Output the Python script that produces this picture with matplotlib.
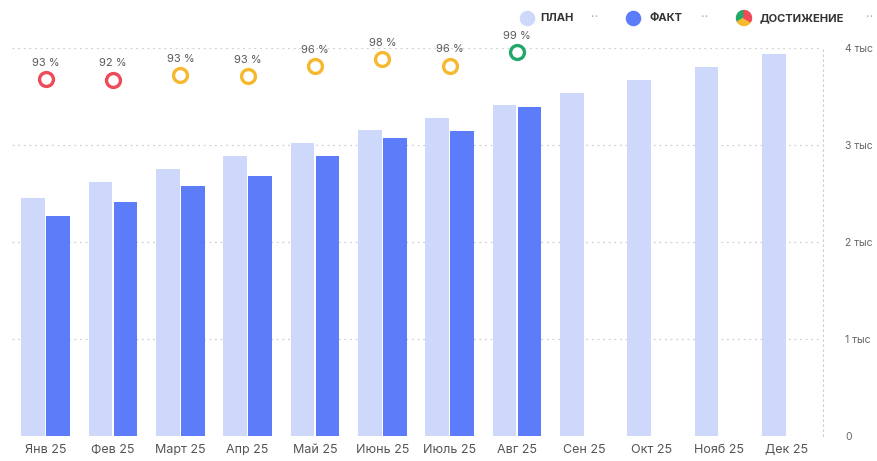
import numpy as np
import matplotlib.pyplot as plt
from matplotlib.patches import Wedge

plt.rcParams['font.family'] = ['Inter', 'DejaVu Sans']

# data (values in thousands)
months = ['Янв 25', 'Фев 25', 'Март 25', 'Апр 25', 'Май 25', 'Июнь 25',
          'Июль 25', 'Авг 25', 'Сен 25', 'Окт 25', 'Нояб 25', 'Дек 25']
plan = [2.45, 2.62, 2.75, 2.89, 3.02, 3.15, 3.28, 3.41, 3.54, 3.67, 3.80, 3.94]
fact = [2.27, 2.41, 2.58, 2.68, 2.89, 3.07, 3.14, 3.39]
achieved = [93, 92, 93, 93, 96, 98, 96, 99]
ach_pos = [92.3, 92.1, 93.3, 93.0, 95.4, 97.3, 95.6, 99.0]  # marker height on hidden % axis
ach_level = ['low', 'low', 'mid', 'mid', 'mid', 'mid', 'mid', 'high']
y_ticks = [0, 1, 2, 3, 4]
y_labels = ['0', '1 тыс', '2 тыс', '3 тыс', '4 тыс']

PLAN_C = '#cdd8fb'
FACT_C = '#5c7cfa'
RED, YEL, GRN = '#ef4a58', '#f5b82e', '#23a86b'
level_colors = {'low': RED, 'mid': YEL, 'high': GRN}

fig = plt.figure(figsize=(8.77, 4.61), dpi=100)
ax = fig.add_axes([12/877, 1-436/461, (820-12)/877, (436-48)/461])

x = np.arange(len(months))
w = 0.35
ax.bar(x - 0.185, plan, width=w, color=PLAN_C, zorder=2)
ax.bar(x[:len(fact)] + 0.185, fact, width=w, color=FACT_C, zorder=2)

# achievement markers on a hidden percent axis
ax2 = ax.twinx()
ax2.set_ylim(3, 100)
ax2.axis('off')
for i, (p, yp, lv) in enumerate(zip(achieved, ach_pos, ach_level)):
    c = level_colors[lv]
    ax2.scatter(i, yp, s=100, facecolor='white', edgecolor=c, linewidth=2.4, zorder=5, clip_on=False)
    ax2.annotate(f'{p} %', (i, yp), xytext=(0, 8), textcoords='offset points',
                 ha='center', va='bottom', fontsize=8, color='#5a5a5a')

ax.set_xlim(-0.5, len(months) - 0.5)
ax.set_ylim(0, 4)
ax.set_xticks(x)
ax.set_xticklabels(months)
ax.yaxis.tick_right()
ax.set_yticks(y_ticks)
ax.set_yticklabels(y_labels)
ax.tick_params(axis='x', length=0, pad=6, labelsize=9, labelcolor='#555555')
ax.tick_params(axis='y', length=0, pad=16, labelsize=7.5, labelcolor='#666666')
ax.grid(axis='y', linestyle=(0, (1.5, 3)), color='#d0d0d0', linewidth=0.9, zorder=0)
for s in ['top', 'left', 'bottom']:
    ax.spines[s].set_visible(False)
ax.spines['right'].set_linestyle((0, (1.5, 3)))
ax.spines['right'].set_color('#d0d0d0')
ax.spines['right'].set_position(('outward', 2))

# legend drawn in pixel coordinates (y axis points down here)
lg = fig.add_axes([0, 0, 1, 1], zorder=10)
lg.set_xlim(0, 877)
lg.set_ylim(461, 0)
lg.axis('off')
ly = 18
lg.scatter([527], [ly], s=125, color=PLAN_C, linewidth=0)
lg.text(540, ly, 'ПЛАН', fontsize=8, fontweight='bold', color='#333333', va='center')
lg.text(591, ly, '··', fontsize=9, color='#aaaaaa', va='center')
lg.scatter([633], [ly], s=125, color=FACT_C, linewidth=0)
lg.text(649, ly, 'ФАКТ', fontsize=8, fontweight='bold', color='#333333', va='center')
lg.text(701, ly, '··', fontsize=9, color='#aaaaaa', va='center')
r = 7.5
lg.add_patch(Wedge((744, ly), r, 150, 270, color=GRN))
lg.add_patch(Wedge((744, ly), r, 30, 150, color=YEL))
lg.add_patch(Wedge((744, ly), r, 270, 390, color=RED))
lg.text(760, ly, 'ДОСТИЖЕНИЕ', fontsize=8, fontweight='bold', color='#333333', va='center')
lg.text(866, ly, '··', fontsize=9, color='#aaaaaa', va='center')

fig.savefig('out.png', dpi=100)
